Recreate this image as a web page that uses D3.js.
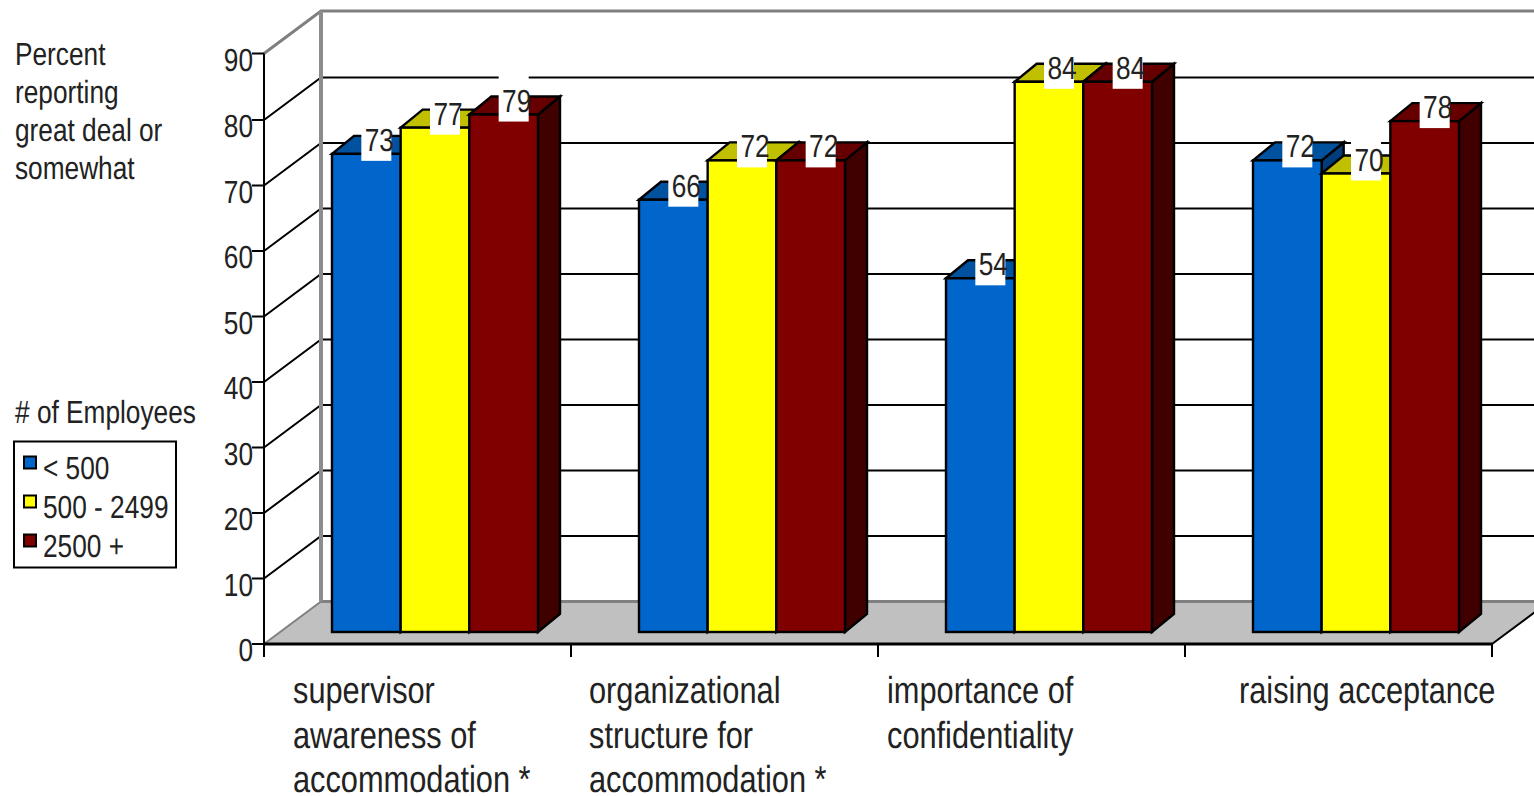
<!DOCTYPE html>
<html>
<head>
<meta charset="utf-8">
<style>
  html, body { margin: 0; padding: 0; background: #fff; overflow: hidden; }
  text { font-family: "Liberation Sans", Arial, sans-serif; fill: #222; font-size: 32px; text-rendering: geometricPrecision; }
</style>
<script src="https://cdn.jsdelivr.net/npm/d3@7"></script>
</head>
<body>
<svg id="chart" width="1534" height="796"></svg>
<script>
// Survey results by employer size
const categories = [
  ["supervisor", "awareness of", "accommodation *"],
  ["organizational", "structure for", "accommodation *"],
  ["importance of", "confidentiality"],
  ["raising acceptance"]
];
const seriesNames = ["< 500", "500 - 2499", "2500 +"];
const smallEmployers = [73, 66, 54, 72];
const midEmployers = [77, 72, 84, 70];
const largeEmployers = [79, 72, 84, 78];
const yTicks = [0, 10, 20, 30, 40, 50, 60, 70, 80, 90];
const yTitle = ["Percent", "reporting", "great deal or", "somewhat"];
const legendTitle = "# of Employees";

const seriesValues = [smallEmployers, midEmployers, largeEmployers];
const frontColors = ["#0066cc", "#ffff00", "#800000"];
const topColors = ["#00529f", "#c0c000", "#660000"];
const sideColors = ["#003d7a", "#808000", "#400000"];

// Projection of the box: wall offset and bar depth
const wall = { dx: 57, dy: 42.5 };
const bar = { dx: 22, dy: 18, inset: 12 };
const axisLeft = 264, axisRight = 1492;
const narrow = 0.82;

const svg = d3.select("#chart");
const y = d3.scaleLinear().domain([0, 90]).range([644, 54.5]);
const x0 = d3.scaleBand().domain(d3.range(categories.length)).range([axisLeft, axisRight]);
const x1 = d3.scaleBand().domain(d3.range(seriesNames.length)).range([68, 274]);
const line = d3.line();
const poly = pts => line(pts) + "Z";

// Condensed text: the sans face squeezed horizontally around its anchor point
const label = (x, yPos, txt, size = 32, anchor = "start") =>
  svg.append("text")
    .attr("transform", `translate(${x},${yPos}) scale(${narrow},1)`)
    .attr("text-anchor", anchor)
    .style("font-size", size + "px")
    .text(txt);

const frameTop = y(90) - 1;

// Floor
svg.append("path")
  .attr("d", poly([[axisLeft, y(0)], [axisLeft + wall.dx, y(0) - wall.dy],
                   [axisRight + wall.dx, y(0) - wall.dy], [axisRight, y(0)]]))
  .attr("fill", "#c0c0c0");
svg.append("line")
  .attr("x1", axisLeft + wall.dx).attr("x2", axisRight + wall.dx)
  .attr("y1", y(0) - wall.dy).attr("y2", y(0) - wall.dy)
  .attr("stroke", "#808080").attr("stroke-width", 3);

// Back wall gridlines and their runs along the side wall
const inner = yTicks.filter(t => t > 0 && t < 90);
svg.selectAll(".grid").data(inner).join("path")
  .attr("class", "grid")
  .attr("d", t => line([[axisLeft, y(t)], [axisLeft + wall.dx, y(t) - wall.dy], [axisRight + wall.dx, y(t) - wall.dy]]))
  .attr("fill", "none").attr("stroke", "#000").attr("stroke-width", 2);

// Grey frame of the walls
svg.append("path")
  .attr("d", line([[axisLeft, frameTop], [axisLeft + wall.dx, frameTop - wall.dy], [axisRight + wall.dx, frameTop - wall.dy]]))
  .attr("fill", "none").attr("stroke", "#808080").attr("stroke-width", 3);
svg.append("line")
  .attr("x1", axisLeft + wall.dx).attr("x2", axisLeft + wall.dx)
  .attr("y1", frameTop - wall.dy).attr("y2", y(0) - wall.dy)
  .attr("stroke", "#8c8c8c").attr("stroke-width", 4);
svg.append("line")
  .attr("x1", axisLeft).attr("x2", axisLeft + wall.dx)
  .attr("y1", y(0)).attr("y2", y(0) - wall.dy)
  .attr("stroke", "#808080").attr("stroke-width", 2);

// Axes
svg.append("path")
  .attr("d", line([[axisLeft, frameTop], [axisLeft, y(0) + 12]]))
  .attr("stroke", "#000").attr("stroke-width", 2);
svg.selectAll(".ytick").data(yTicks).join("line")
  .attr("class", "ytick")
  .attr("x1", axisLeft - 12).attr("x2", axisLeft)
  .attr("y1", t => t === 90 ? frameTop : y(t)).attr("y2", t => t === 90 ? frameTop : y(t))
  .attr("stroke", "#000").attr("stroke-width", 2);
yTicks.forEach(t => label(axisLeft - 11, (t === 90 ? frameTop : y(t)) + 17, t, 32, "end"));
svg.append("line")
  .attr("x1", axisLeft).attr("x2", axisRight).attr("y1", y(0)).attr("y2", y(0))
  .attr("stroke", "#000").attr("stroke-width", 3);
svg.append("line")
  .attr("x1", axisRight).attr("x2", axisRight + wall.dx).attr("y1", y(0)).attr("y2", y(0) - wall.dy)
  .attr("stroke", "#000").attr("stroke-width", 2);
const xTickPositions = d3.range(categories.length + 1).map(i => i < categories.length ? x0(i) : axisRight);
svg.selectAll(".xtick").data(xTickPositions).join("line")
  .attr("class", "xtick")
  .attr("x1", d => d).attr("x2", d => d)
  .attr("y1", y(0)).attr("y2", y(0) + 13)
  .attr("stroke", "#000").attr("stroke-width", 2);

// Bars, painted left to right so each one covers its neighbour's side
const base = y(0) - bar.inset;
const yBar = v => y(v) - bar.inset;
categories.forEach((_, c) => {
  seriesValues.forEach((vals, s) => {
    const v = vals[c];
    const l = x0(c) + x1(s), r = l + x1.bandwidth(), t = yBar(v);
    const g = svg.append("g").attr("stroke", "#000").attr("stroke-width", 2.4).attr("stroke-linejoin", "miter");
    g.append("path").attr("fill", sideColors[s])
      .attr("d", poly([[r, t], [r + bar.dx, t - bar.dy], [r + bar.dx, base - bar.dy], [r, base]]));
    g.append("path").attr("fill", topColors[s])
      .attr("d", poly([[l, t], [l + bar.dx, t - bar.dy], [r + bar.dx, t - bar.dy], [r, t]]));
    g.append("rect").attr("fill", frontColors[s])
      .attr("x", l).attr("y", t).attr("width", r - l).attr("height", base - t);
  });
});

// Value labels on white plates
categories.forEach((_, c) => {
  seriesValues.forEach((vals, s) => {
    const v = vals[c];
    const cx = x0(c) + x1(s) + x1.bandwidth() / 2 + 10;
    const t = yBar(v);
    svg.append("rect").attr("x", cx - 15).attr("y", t - 39).attr("width", 30).attr("height", 46).attr("fill", "#fff");
    label(cx + 3, t - 3, v, 32, "middle");
  });
});

// Category labels
const catLabelX = [293, 589, 887, 1239];
categories.forEach((lines, c) => {
  lines.forEach((txt, i) => label(catLabelX[c], 703 + i * 44.5, txt, 37.5));
});

// Left-hand notes
yTitle.forEach((txt, i) => label(15, 65 + i * 38, txt));
label(15, 423, legendTitle);

// Legend
svg.append("rect").attr("x", 14).attr("y", 441.5).attr("width", 162).attr("height", 126)
  .attr("fill", "#fff").attr("stroke", "#000").attr("stroke-width", 2);
seriesNames.forEach((name, i) => {
  svg.append("rect").attr("x", 24).attr("y", 456.5 + i * 39).attr("width", 12).attr("height", 12)
    .attr("fill", frontColors[i]).attr("stroke", "#000").attr("stroke-width", 2);
  label(43, 479 + i * 39, name);
});
</script>
</body>
</html>
